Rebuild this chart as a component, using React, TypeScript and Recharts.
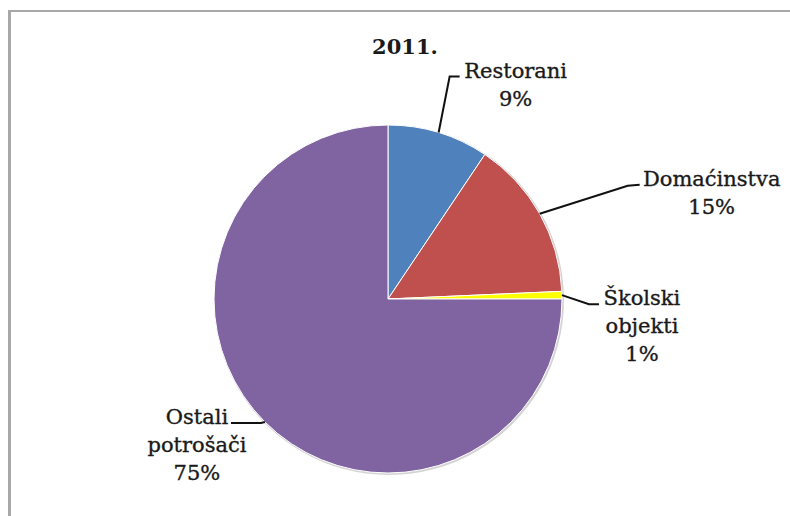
import React from 'react';
import { PieChart, Pie, Cell } from 'recharts';

const title = '2011.';
const categories = ['Restorani', 'Domaćinstva', 'Školski objekti', 'Ostali potrošači'];
const shares = [9.4, 14.9, 0.7, 75.0];
const colors = ['#4F81BD', '#C0504D', '#FFFF00', '#8064A2'];

const data = categories.map((name, i) => ({ name, value: shares[i] }));
const shadowData = [{ name: 'shadow', value: 100 }];

// leader-line geometry relative to the slice's outer edge point at its mid angle
const leaders = [
  { elbow: [11, -56], end: [21, -56], textDx: 77 },
  { elbow: [88, -28], end: [100, -29], textDx: 172 },
  { elbow: [27, 9], end: [37, 9], textDx: 80 },
  { elbow: [-4, 1], end: [-34, 1], textDx: -68 },
];

const RAD = Math.PI / 180;
const FONT = '"DejaVu Serif", serif';

const renderLabel = (props: any) => {
  const { cx, cy, midAngle, outerRadius, index, value, name } = props;
  const ex = cx + outerRadius * Math.cos(-midAngle * RAD);
  const ey = cy + outerRadius * Math.sin(-midAngle * RAD);
  const l = leaders[index];
  const bx = ex + l.elbow[0];
  const by = ey + l.elbow[1];
  const fx = ex + l.end[0];
  const fy = ey + l.end[1];
  const tx = ex + l.textDx;
  const lines = [...String(name).split(' '), `${Math.round(value)}%`];
  return (
    <g key={`lbl-${index}`}>
      <path d={`M${ex},${ey} L${bx},${by} L${fx},${fy}`} stroke="#111" strokeWidth={2} fill="none" />
      <text
        x={tx}
        y={fy + 1}
        textAnchor="middle"
        fontFamily={FONT}
        fontSize={21}
        fill="#1a1a1a"
        stroke="#1a1a1a"
        strokeWidth={0.35}
      >
        {lines.map((t, i) => (
          <tspan key={i} x={tx} dy={i === 0 ? 0 : 28}>
            {t}
          </tspan>
        ))}
      </text>
    </g>
  );
};

export default function App() {
  return (
    <div style={{ position: 'fixed', left: 0, top: 0, width: 790, height: 516, background: '#fff', overflow: 'hidden' }}>
      <div
        style={{
          position: 'absolute',
          left: 8,
          top: 10,
          width: 820,
          height: 540,
          borderLeft: '3px solid #a8a8a8',
          borderTop: '2px solid #a8a8a8',
        }}
      />
      <div
        style={{
          position: 'absolute',
          left: 305,
          top: 34,
          width: 200,
          textAlign: 'center',
          fontFamily: FONT,
          fontWeight: 'bold',
          fontSize: 21,
          color: '#1a1a1a',
        }}
      >
        {title}
      </div>
      <div style={{ position: 'absolute', left: 0, top: 0 }}>
        <PieChart width={790} height={516} margin={{ top: 0, right: 0, bottom: 0, left: 0 }}>
          <Pie
            data={shadowData}
            dataKey="value"
            cx={389}
            cy={300}
            outerRadius={175}
            fill="#d4d4d4"
            stroke="none"
            isAnimationActive={false}
          />
          <Pie
            data={data}
            dataKey="value"
            nameKey="name"
            cx={388}
            cy={299}
            outerRadius={174}
            startAngle={90}
            endAngle={-270}
            stroke="#ffffff"
            strokeWidth={1}
            label={renderLabel}
            labelLine={false}
            isAnimationActive={false}
          >
            {data.map((d, i) => (
              <Cell key={d.name} fill={colors[i]} />
            ))}
          </Pie>
        </PieChart>
      </div>
    </div>
  );
}
